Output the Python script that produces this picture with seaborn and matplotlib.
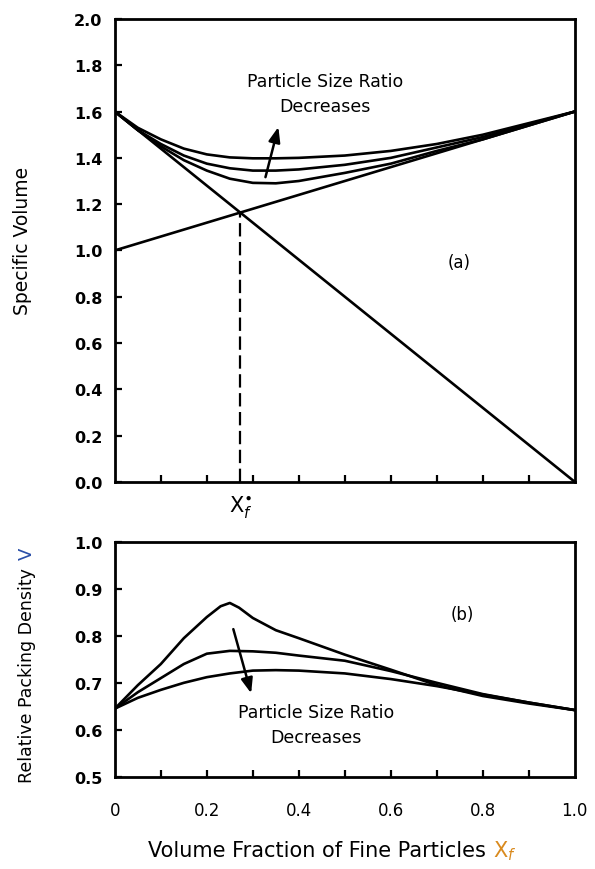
import numpy as np
import pandas as pd
import matplotlib
matplotlib.use("Agg")
import matplotlib.pyplot as plt
import seaborn as sns

# (a) specific volume curves
x_top = [0, 0.05, 0.1, 0.15, 0.2, 0.25, 0.3, 0.35, 0.4, 0.5, 0.6, 0.7, 0.8, 0.9, 1.0]
vol_a = [1.60, 1.53, 1.48, 1.44, 1.415, 1.402, 1.398, 1.398, 1.40, 1.41, 1.43, 1.46, 1.50, 1.55, 1.60]
vol_b = [1.60, 1.52, 1.46, 1.41, 1.375, 1.355, 1.345, 1.345, 1.35, 1.37, 1.40, 1.445, 1.49, 1.545, 1.60]
vol_c = [1.60, 1.52, 1.45, 1.39, 1.345, 1.31, 1.292, 1.29, 1.30, 1.335, 1.375, 1.43, 1.48, 1.54, 1.60]
coarse_line = [1.6, 0.0]   # coarse-rich branch
fine_line = [1.0, 1.6]     # fine-rich branch
x_ends = [0.0, 1.0]
x_star = 0.2727
v_star = 1.1636

# (b) relative packing density curves
x_b1 = [0, 0.05, 0.1, 0.15, 0.2, 0.23, 0.25, 0.27, 0.3, 0.35, 0.4, 0.5, 0.6, 0.7, 0.8, 0.9, 1.0]
dens_1 = [0.645, 0.695, 0.74, 0.795, 0.84, 0.863, 0.87, 0.86, 0.838, 0.812, 0.795, 0.76, 0.728, 0.695, 0.672, 0.656, 0.642]
x_b = [0, 0.05, 0.1, 0.15, 0.2, 0.25, 0.3, 0.35, 0.4, 0.5, 0.6, 0.7, 0.8, 0.9, 1.0]
dens_2 = [0.645, 0.68, 0.71, 0.74, 0.762, 0.768, 0.767, 0.764, 0.758, 0.747, 0.725, 0.70, 0.676, 0.658, 0.642]
dens_3 = [0.645, 0.668, 0.685, 0.70, 0.712, 0.72, 0.726, 0.727, 0.726, 0.72, 0.708, 0.693, 0.675, 0.658, 0.642]

top_ticks = [0.0, 0.2, 0.4, 0.6, 0.8, 1.0, 1.2, 1.4, 1.6, 1.8, 2.0]
bot_ticks = [0.5, 0.6, 0.7, 0.8, 0.9, 1.0]
x_ticks = [0, 0.2, 0.4, 0.6, 0.8, 1.0]
x_tick_labels = ["0", "0.2", "0.4", "0.6", "0.8", "1.0"]

sns.set_style("ticks")
plt.rcParams['font.family'] = ['DejaVu Sans']
plt.rcParams['text.color'] = 'black'
plt.rcParams['axes.labelcolor'] = 'black'
plt.rcParams['xtick.color'] = 'black'
plt.rcParams['ytick.color'] = 'black'

fig = plt.figure(figsize=(5.95, 8.70), dpi=100)
ax1 = fig.add_axes([0.193, 0.445, 0.773, 0.532])
ax2 = fig.add_axes([0.193, 0.106, 0.773, 0.270])

lw = 1.9
arrow = dict(arrowstyle="-|>,head_length=0.9,head_width=0.35", color="black", lw=1.8)

top_df = pd.DataFrame({"x": x_top, "a": vol_a, "b": vol_b, "c": vol_c})
for col in ["a", "b", "c"]:
    sns.lineplot(data=top_df, x="x", y=col, ax=ax1, color="black", lw=lw)
sns.lineplot(x=x_ends, y=coarse_line, ax=ax1, color="black", lw=lw)
sns.lineplot(x=x_ends, y=fine_line, ax=ax1, color="black", lw=lw)
ax1.plot([x_star, x_star], [0, v_star], color="black", lw=1.6, ls=(0, (6, 2.5)))

ax1.set_xlim(0, 1)
ax1.set_ylim(0, 2.0)
ax1.set_yticks(top_ticks)
ax1.set_yticklabels([f"{t:.1f}" for t in top_ticks])
ax1.set_xticks(np.arange(0.1, 1.0, 0.1))
ax1.set_xticklabels([])
ax1.set_xlabel("")
ax1.set_ylabel("")
ax1.text(x_star, -0.05, r"$\mathregular{X}^{\bullet}_{f}$", fontsize=15,
         ha="center", va="top")
ax1.text(0.457, 1.733, "Particle Size Ratio", fontsize=12.5, ha="center", va="center")
ax1.text(0.457, 1.626, "Decreases", fontsize=12.5, ha="center", va="center")
ax1.annotate("", xy=(0.357, 1.545), xytext=(0.326, 1.305), arrowprops=arrow)
ax1.text(0.748, 0.95, "(a)", fontsize=12, ha="center", va="center")

bot1 = pd.DataFrame({"x": x_b1, "d": dens_1})
bot23 = pd.DataFrame({"x": x_b, "d2": dens_2, "d3": dens_3})
sns.lineplot(data=bot1, x="x", y="d", ax=ax2, color="black", lw=lw)
sns.lineplot(data=bot23, x="x", y="d2", ax=ax2, color="black", lw=lw)
sns.lineplot(data=bot23, x="x", y="d3", ax=ax2, color="black", lw=lw)

ax2.set_xlim(0, 1)
ax2.set_ylim(0.5, 1.0)
ax2.set_yticks(bot_ticks)
ax2.set_yticklabels([f"{t:.1f}" for t in bot_ticks])
ax2.set_xticks(np.arange(0.1, 1.0, 0.1))
ax2.set_xticklabels([])
ax2.set_xlabel("")
ax2.set_ylabel("")
for xv, lab in zip(x_ticks, x_tick_labels):
    ax2.text(xv, 0.43, lab, fontsize=12, ha="center", va="center")
ax2.annotate("", xy=(0.298, 0.672), xytext=(0.256, 0.82), arrowprops=arrow)
ax2.text(0.438, 0.638, "Particle Size Ratio", fontsize=12.5, ha="center", va="center")
ax2.text(0.438, 0.585, "Decreases", fontsize=12.5, ha="center", va="center")
ax2.text(0.756, 0.847, "(b)", fontsize=12, ha="center", va="center")

# axis labels, with the coloured symbols placed after them
fig.text(0.037, 0.723, "Specific Volume", rotation=90, fontsize=13.5,
         ha="center", va="center")
rpd = fig.text(0.045, 0.223, "Relative Packing Density", rotation=90, fontsize=12.5,
               ha="center", va="center")
ax2.annotate("V", xy=(0.5, 1.0), xycoords=rpd, xytext=(0, 6),
             textcoords="offset points", rotation=90, fontsize=13,
             color="#2a4fa8", ha="center", va="bottom", annotation_clip=False)
vf = fig.text(0.249, 0.022, "Volume Fraction of Fine Particles", fontsize=15,
              ha="left", va="center")
ax2.annotate(r"$\mathregular{X}_{f}$", xy=(1.0, 0.5), xycoords=vf, xytext=(5, 0),
             textcoords="offset points", fontsize=15, color="#d98a1e",
             ha="left", va="center", annotation_clip=False)

for ax in (ax1, ax2):
    ax.tick_params(direction="in", length=5, width=1.6, labelsize=11.5)
    ax.tick_params(axis="y", pad=9)
    ax.tick_params(axis="x", which="both", bottom=True, top=False)
    for s in ax.spines.values():
        s.set_linewidth(2.0)
        s.set_color("black")
    for t in ax.get_yticklabels():
        t.set_fontweight("bold")

fig.savefig("out.png", dpi=100, facecolor="white")
